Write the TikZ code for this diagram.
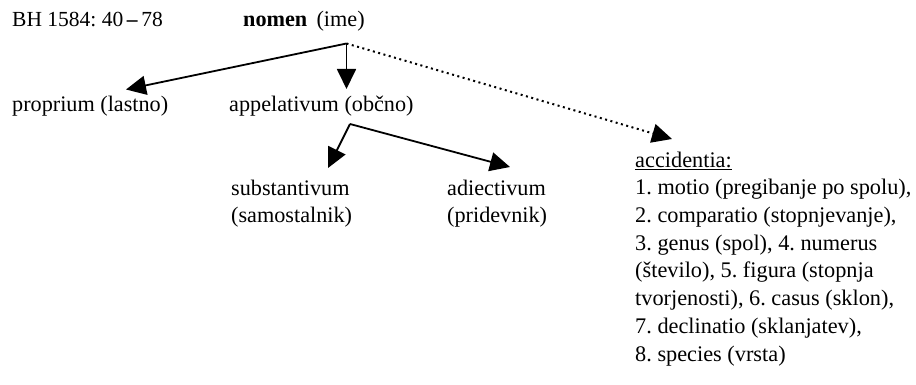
\documentclass[tikz,border=0pt]{standalone}
\usepackage{fontspec}
\setmainfont{Liberation Serif}
\usetikzlibrary{arrows.meta}
\begin{document}
\frenchspacing
\begin{tikzpicture}[x=1pt,y=-1pt,
  lbl/.style={anchor=base west,inner sep=0pt,align=left,font=\fontsize{22.2}{27.7}\selectfont},
  conn/.style={line width=1.8pt,-{Triangle[length=20pt,width=19pt]}},
  dotconn/.style={line width=2pt,dash pattern=on 2pt off 3.5pt,-{Triangle[length=20pt,width=19pt]}}]
\useasboundingbox (0,0) rectangle (916,385);
\node[lbl,font=\fontsize{21.5}{27.7}\selectfont] (bh) at (12,27) {BH 1584: 40\,\textbf{–}\,78};
\node[lbl] (nomen) at (243,27) {\textbf{nomen} \,(ime)};
\node[lbl] (prop) at (12,112) {proprium (lastno)};
\node[lbl] (app) at (229,112) {appelativum (občno)};
\node[lbl] (sub) at (231,222.7) {substantivum\\(samostalnik)};
\node[lbl] (adj) at (447,222.7) {adiectivum\\(pridevnik)};
\node[lbl,font=\fontsize{22.3}{27.7}\selectfont] (acc) at (635,361) {\underline{accidentia:}\\
1. motio (pregibanje po spolu),\\
2. comparatio (stopnjevanje),\\
3. genus (spol), 4. numerus\\
(število), 5. figura (stopnja\\
tvorjenosti), 6. casus (sklon),\\
7. declinatio (sklanjatev),\\
8. species (vrsta)};
\coordinate (nj) at (346.5,43.5);
\coordinate (tprop) at (126,89.5);
\coordinate (tapp) at (346.5,89);
\coordinate (tacc) at (672,139);
\coordinate (aj) at (350,124);
\coordinate (tsub) at (328,168);
\coordinate (tadj) at (510,167);
\draw[conn] (nj) -- (tprop);
\draw[conn] (nj) -- (tapp);
\draw[dotconn] (nj) -- (tacc);
\draw[conn] (aj) -- (tsub);
\draw[conn] (aj) -- (tadj);
\end{tikzpicture}
\end{document}
